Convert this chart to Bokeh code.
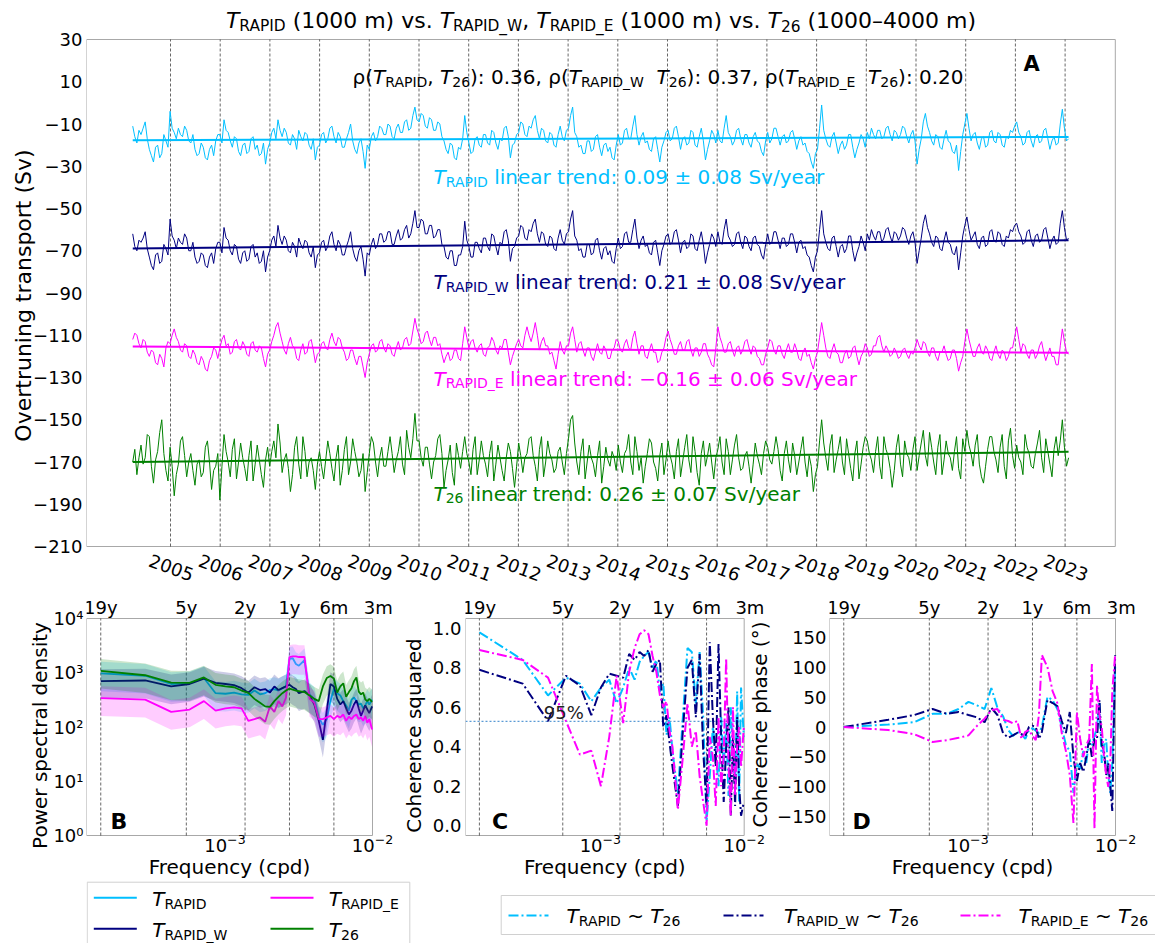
import math, glob, os
import numpy as np
from bokeh.plotting import figure
from bokeh.models import Range1d, Label, FixedTicker, CustomJSTickFormatter
from bokeh.layouts import column, row
from bokeh.embed import file_html
from bokeh.resources import INLINE

# ------------------------------------------------------------------ data
T_START, T_END = 2004.24, 2023.07          # first / last sample (decimal year), twice-monthly values
YEARS = list(range(2005, 2024))
Y_TICKS_A = list(range(30, -211, -20))
A_YMIN, A_YMAX = -210, 30
A_XMIN, A_XMAX = 2003.31, 2024.01

RAPID = [
    -11, -16, -19, -13, -15, -12, -9, -17, -22, -25, -28, -21, -20, -26, -24, -15, -18, -21,
    -4, -12, -14, -17, -12, -15, -16, -11, -13, -18, -19, -15, -22, -25, -24, -19, -21, -26, -27, -22, -20, -25, -18, -15,
    -15, -19, -8, -13, -14, -18, -21, -16, -17, -23, -25, -20, -19, -24, -23, -17, -16, -22, -20, -25, -24, -19, -29, -22,
    -19, -14, -12, -17, -8, -13, -16, -12, -14, -19, -20, -15, -17, -22, -13, -16, -18, -14, -15, -20, -22, -17, -27, -21,
    -20, -15, -14, -19, -17, -12, -11, -16, -19, -14, -16, -21, -21, -17, -14, -10, -18, -22, -24, -19, -17, -23, -31, -20,
    -22, -16, -14, -18, -16, -11, -12, -15, -15, -10, -11, -16, -17, -12, -10, -14, -14, -9, -8, -13, -12, -6, -2, -8,
    -9, -5, -6, -11, -12, -7, -8, -13, -13, -9, -10, -16, -18, -22, -24, -19, -20, -26, -27, -21, -22, -17, -6, -14,
    -19, -24, -23, -17, -16, -20, -21, -15, -15, -19, -20, -13, -14, -19, -22, -17, -18, -12, -11, -16, -26, -20, -19, -15,
    -14, -9, -10, -15, -16, -11, -12, -8, -6, -13, -17, -12, -13, -18, -19, -14, -15, -20, -21, -15, -11, -16, -18, -13,
    -12, -6, -2, -14, -16, -21, -20, -24, -24, -18, -18, -23, -22, -16, -15, -21, -25, -20, -19, -23, -21, -26, -27, -20,
    -15, -20, -19, -13, -12, -17, -17, -11, -6, -15, -20, -16, -14, -19, -18, -22, -23, -17, -16, -22, -28, -21, -18, -14,
    -13, -18, -17, -12, -11, -16, -22, -17, -16, -20, -19, -13, -14, -20, -21, -16, -12, -18, -27, -22, -18, -13, -15, -19,
    -13, -18, -19, -12, -6, -14, -16, -20, -18, -13, -12, -17, -20, -15, -15, -19, -21, -16, -14, -18, -19, -23, -25, -18,
    -14, -19, -17, -12, -12, -16, -20, -16, -15, -19, -18, -14, -13, -17, -22, -18, -16, -20, -19, -23, -24, -28, -31, -24,
    -22, -12, -1, -13, -17, -20, -21, -16, -14, -19, -24, -20, -18, -22, -20, -15, -15, -21, -26, -22, -19, -15, -17, -21,
    -14, -17, -12, -15, -17, -13, -13, -17, -16, -12, -11, -15, -18, -13, -14, -17, -15, -11, -12, -16, -19, -15, -13, -18,
    -29, -22, -17, -9, -5, -11, -14, -18, -20, -15, -16, -21, -22, -17, -13, -18, -19, -23, -24, -20, -32, -23, -15, -10,
    -5, -12, -18, -15, -14, -19, -22, -17, -16, -21, -20, -14, -13, -18, -19, -14, -15, -20, -21, -16, -17, -13, -14, -11,
    -9, -14, -16, -20, -19, -14, -13, -18, -21, -16, -15, -19, -18, -13, -12, -17, -22, -18, -16, -20, -19, -10, -3, -12,
    -18, -17]
RAPID_W = [
    -62, -68, -70, -65, -66, -64, -61, -69, -73, -77, -79, -72, -71, -76, -75, -67, -69, -72,
    -55, -63, -65, -69, -64, -66, -67, -62, -64, -70, -70, -66, -73, -76, -75, -71, -72, -77, -78, -73, -71, -76, -69, -66,
    -66, -71, -59, -64, -65, -70, -72, -67, -68, -74, -76, -71, -70, -75, -74, -68, -67, -73, -71, -76, -75, -70, -80, -73,
    -70, -65, -63, -68, -58, -64, -67, -63, -65, -70, -71, -66, -68, -73, -64, -67, -69, -65, -66, -71, -73, -68, -78, -72,
    -71, -66, -65, -70, -68, -63, -61, -67, -70, -65, -67, -72, -72, -68, -65, -61, -69, -73, -75, -70, -68, -74, -82, -71,
    -72, -67, -64, -69, -67, -62, -62, -66, -65, -61, -61, -67, -67, -63, -60, -65, -64, -60, -58, -64, -62, -57, -51, -59,
    -59, -55, -56, -62, -62, -58, -58, -64, -63, -60, -60, -67, -68, -73, -74, -70, -70, -77, -77, -72, -72, -68, -56, -65,
    -68, -73, -73, -66, -66, -69, -71, -64, -64, -68, -70, -62, -63, -68, -72, -66, -67, -61, -60, -65, -75, -69, -68, -64,
    -63, -58, -59, -64, -65, -60, -61, -57, -55, -62, -66, -61, -62, -67, -68, -63, -64, -69, -70, -64, -60, -65, -67, -62,
    -61, -55, -51, -63, -65, -70, -69, -73, -73, -67, -67, -72, -71, -65, -64, -70, -74, -69, -68, -72, -70, -75, -76, -69,
    -64, -69, -68, -62, -61, -66, -66, -60, -55, -64, -69, -65, -63, -68, -67, -71, -72, -66, -65, -71, -77, -70, -67, -63,
    -62, -67, -66, -61, -60, -65, -71, -66, -65, -69, -68, -62, -63, -69, -70, -65, -61, -67, -76, -71, -67, -62, -64, -68,
    -61, -66, -67, -60, -55, -63, -65, -68, -67, -62, -61, -66, -69, -63, -64, -68, -70, -64, -63, -67, -68, -72, -74, -67,
    -62, -67, -66, -61, -61, -65, -69, -64, -64, -68, -67, -62, -62, -66, -71, -66, -65, -69, -68, -72, -73, -77, -80, -73,
    -70, -60, -51, -62, -66, -69, -70, -64, -63, -68, -73, -68, -67, -71, -69, -63, -63, -70, -75, -71, -68, -63, -66, -70,
    -62, -65, -60, -63, -65, -61, -61, -66, -64, -60, -59, -63, -66, -61, -62, -65, -63, -59, -60, -64, -67, -63, -61, -66,
    -76, -70, -64, -57, -53, -59, -62, -66, -68, -63, -64, -69, -70, -65, -61, -66, -67, -71, -72, -68, -79, -71, -63, -58,
    -54, -60, -65, -63, -61, -67, -69, -64, -63, -68, -67, -61, -60, -65, -66, -61, -62, -67, -68, -63, -64, -60, -61, -58,
    -57, -61, -63, -67, -66, -61, -60, -65, -68, -63, -62, -66, -65, -60, -59, -64, -69, -65, -63, -67, -66, -57, -51, -59,
    -65, -64]
RAPID_E = [
    -112, -109, -110, -114, -116, -112, -113, -118, -120, -117, -118, -123, -124, -119, -121, -125, -116, -113,
    -114, -110, -107, -111, -113, -117, -118, -114, -115, -120, -121, -117, -119, -123, -124, -120, -122, -126, -127, -122, -120, -116, -117, -121,
    -116, -112, -110, -115, -114, -119, -118, -113, -112, -116, -117, -113, -115, -119, -120, -114, -113, -117, -118, -115, -116, -121, -125, -119,
    -117, -113, -110, -106, -104, -109, -113, -117, -119, -114, -111, -115, -116, -121, -122, -117, -114, -119, -118, -113, -112, -117, -123, -119,
    -118, -114, -113, -116, -117, -112, -109, -113, -115, -111, -112, -116, -118, -122, -121, -117, -117, -121, -124, -120, -120, -125, -130, -123,
    -119, -115, -114, -118, -117, -113, -112, -116, -118, -114, -115, -119, -120, -116, -113, -117, -116, -112, -111, -115, -114, -108, -102, -107,
    -110, -114, -113, -109, -108, -112, -115, -111, -111, -115, -114, -119, -123, -120, -118, -122, -121, -117, -117, -121, -122, -114, -106, -111,
    -116, -113, -112, -116, -118, -115, -114, -119, -120, -116, -115, -111, -113, -117, -119, -115, -116, -112, -112, -118, -124, -120, -117, -114,
    -112, -115, -116, -110, -106, -110, -113, -109, -104, -110, -117, -113, -111, -115, -115, -119, -118, -122, -126, -119, -113, -117, -119, -115,
    -115, -109, -106, -112, -118, -114, -113, -117, -120, -116, -116, -120, -122, -118, -114, -118, -119, -115, -117, -121, -121, -117, -116, -112,
    -113, -117, -118, -114, -112, -116, -117, -111, -108, -114, -119, -115, -115, -120, -121, -117, -114, -118, -118, -123, -122, -118, -116, -111,
    -108, -112, -115, -119, -119, -115, -113, -117, -117, -113, -112, -117, -120, -116, -116, -120, -118, -114, -114, -119, -121, -124, -125, -116,
    -106, -111, -114, -118, -118, -114, -113, -117, -120, -116, -115, -119, -117, -113, -112, -116, -119, -115, -116, -120, -121, -124, -124, -119,
    -116, -112, -113, -117, -119, -115, -115, -119, -121, -117, -114, -118, -118, -114, -117, -121, -122, -118, -116, -120, -119, -123, -126, -121,
    -118, -111, -104, -110, -116, -120, -121, -117, -114, -118, -119, -123, -123, -119, -117, -121, -120, -116, -115, -120, -124, -120, -118, -114,
    -116, -120, -119, -115, -115, -111, -110, -115, -118, -115, -117, -120, -119, -116, -118, -121, -120, -117, -116, -119, -121, -118, -119, -116,
    -112, -115, -117, -113, -114, -118, -120, -116, -116, -120, -122, -118, -118, -115, -119, -122, -121, -117, -117, -121, -127, -123, -120, -113,
    -107, -112, -116, -120, -120, -116, -114, -118, -119, -115, -117, -121, -122, -118, -115, -119, -121, -117, -118, -122, -120, -116, -116, -111,
    -106, -112, -118, -114, -115, -119, -121, -117, -117, -121, -119, -115, -113, -118, -122, -119, -116, -120, -120, -124, -124, -115, -107, -113,
    -118, -119]
T26 = [
    -170, -164, -176, -168, -162, -171, -168, -157, -158, -172, -180, -169, -165, -156, -150, -166, -174, -179,
    -163, -172, -186, -176, -171, -160, -158, -167, -177, -170, -166, -174, -181, -171, -169, -177, -175, -163, -160, -170, -183, -174, -172, -166,
    -188, -172, -157, -165, -170, -177, -164, -159, -178, -170, -161, -168, -173, -179, -167, -160, -179, -171, -162, -169, -176, -182, -169, -163,
    -172, -165, -160, -168, -152, -161, -175, -169, -166, -173, -184, -176, -163, -158, -171, -178, -158, -165, -177, -170, -168, -174, -183, -171,
    -165, -172, -178, -169, -160, -166, -173, -179, -168, -162, -181, -174, -164, -158, -176, -170, -159, -165, -170, -177, -174, -166, -184, -175,
    -166, -158, -161, -170, -177, -168, -163, -172, -172, -165, -158, -166, -175, -169, -165, -158, -171, -176, -155, -163, -168, -159, -147, -160,
    -160, -168, -172, -163, -163, -171, -178, -170, -167, -159, -157, -166, -182, -174, -169, -162, -175, -181, -161, -167, -173, -165, -158, -166,
    -170, -176, -164, -158, -176, -169, -160, -167, -171, -177, -166, -160, -179, -171, -162, -168, -174, -179, -168, -161, -165, -173, -182, -172,
    -161, -167, -175, -168, -166, -159, -158, -167, -172, -179, -164, -158, -177, -170, -160, -166, -169, -175, -173, -165, -163, -170, -176, -166,
    -159, -150, -148, -161, -170, -176, -165, -159, -178, -170, -162, -168, -171, -177, -167, -160, -180, -172, -163, -169, -172, -165, -168, -174,
    -162, -170, -175, -166, -164, -157, -170, -176, -158, -165, -174, -168, -180, -172, -166, -159, -161, -170, -173, -179, -167, -161, -176, -169,
    -160, -167, -171, -178, -165, -159, -177, -170, -163, -157, -169, -175, -158, -165, -175, -181, -166, -160, -172, -167, -161, -170, -178, -168,
    -164, -158, -170, -176, -159, -165, -176, -169, -162, -157, -168, -174, -173, -167, -165, -172, -180, -171, -161, -167, -171, -176, -166, -160,
    -163, -169, -171, -165, -158, -164, -174, -179, -166, -160, -169, -175, -161, -167, -176, -170, -164, -158, -170, -177, -167, -172, -184, -176,
    -172, -160, -150, -161, -168, -174, -162, -157, -175, -169, -164, -158, -170, -176, -159, -166, -173, -179, -166, -160, -178, -171, -163, -158,
    -160, -166, -169, -175, -165, -158, -172, -178, -158, -164, -167, -173, -182, -174, -163, -157, -171, -177, -160, -166, -168, -174, -164, -158,
    -174, -167, -161, -155, -167, -172, -156, -163, -170, -176, -163, -157, -176, -169, -160, -166, -168, -174, -165, -158, -173, -178, -159, -165,
    -155, -162, -166, -172, -162, -157, -171, -177, -180, -172, -164, -158, -158, -165, -169, -175, -163, -157, -172, -178, -160, -154, -167, -173,
    -162, -168, -170, -176, -157, -163, -166, -172, -173, -166, -161, -155, -168, -175, -159, -165, -171, -177, -164, -158, -167, -160, -150, -163,
    -172, -168]
TREND_RAPID = [-17.7, -16.1]
TREND_W = [-68.9, -65.0]
TREND_E = [-115.3, -118.3]
TREND_26 = [-170.0, -165.2]

# spectra (frequency in cycles per day)
FREQ = [0.0001441, 0.0002882, 0.0004323, 0.0005764, 0.0007205, 0.0008646, 0.0010087,
        0.0011528, 0.0012969, 0.0014410, 0.0015851, 0.0017292, 0.0018733, 0.0020174,
        0.0021615, 0.0023056, 0.0024497, 0.0025938, 0.0027379, 0.0028820, 0.0030261,
        0.0031702, 0.0034584, 0.0037466, 0.0040348, 0.0043230, 0.0046112, 0.0048994,
        0.0051876, 0.0054758, 0.0057640, 0.0060522, 0.0063404, 0.0066286, 0.0069168,
        0.0072050, 0.0074932, 0.0077814, 0.0080696, 0.0083578, 0.0086460, 0.0089342,
        0.0092224, 0.0095106, 0.0099429]
PSD_RAPID = [970, 880, 620, 640, 800, 420, 410, 430, 400, 390, 470, 400, 420, 480, 500,
             470, 520, 560, 1800, 1850, 1450, 1350, 1700, 400, 330, 150, 110, 140, 300, 500,
             420, 380, 300, 250, 200, 320, 350, 300, 260, 270, 220, 250, 300, 260, 320]
PSD_W = [700, 720, 560, 620, 780, 650, 620, 590, 520, 430, 540, 480, 500, 430, 560,
         480, 520, 560, 600, 540, 500, 420, 460, 380, 260, 130, 58, 200, 620, 560,
         330, 260, 300, 220, 170, 200, 260, 310, 220, 160, 200, 250, 210, 180, 240]
PSD_E = [340, 320, 190, 210, 300, 200, 220, 230, 220, 130, 140, 150, 125, 240, 190,
         300, 240, 350, 1950, 2000, 2000, 1950, 1950, 330, 280, 140, 140, 150, 160, 140,
         160, 150, 170, 130, 155, 140, 160, 170, 140, 150, 130, 160, 120, 140, 90]
PSD_26 = [1085, 900, 660, 650, 820, 600, 560, 540, 470, 425, 330, 280, 240, 235, 300,
          360, 420, 470, 510, 490, 470, 460, 440, 380, 330, 300, 560, 800, 870, 780,
          430, 560, 640, 360, 440, 520, 700, 820, 450, 400, 430, 320, 300, 330, 290]
CI_LOW, CI_HIGH = 0.47, 1.65      # confidence band ratios

COH_RAPID = [0.98, 0.84, 0.66, 0.75, 0.72, 0.63, 0.70, 0.74, 0.62, 0.70, 0.80, 0.74, 0.83,
             0.86, 0.88, 0.80, 0.84, 0.68, 0.72, 0.46, 0.55, 0.38, 0.16, 0.55, 0.90, 0.88,
             0.62, 0.88, 0.55, 0.02, 0.25, 0.50, 0.38, 0.20, 0.55, 0.30, 0.52, 0.15, 0.60,
             0.35, 0.20, 0.68, 0.12, 0.70, 0.45]
COH_W = [0.79, 0.72, 0.53, 0.76, 0.71, 0.56, 0.70, 0.77, 0.76, 0.75, 0.87, 0.84, 0.88,
         0.86, 0.89, 0.78, 0.82, 0.84, 0.50, 0.56, 0.42, 0.30, 0.10, 0.48, 0.80, 0.84,
         0.55, 0.87, 0.38, 0.10, 0.93, 0.55, 0.30, 0.92, 0.45, 0.12, 0.40, 0.60, 0.05,
         0.45, 0.10, 0.55, 0.20, 0.05, 0.12]
COH_E = [0.89, 0.84, 0.75, 0.53, 0.36, 0.38, 0.20, 0.45, 0.76, 0.52, 0.78, 0.90, 0.97,
         0.99, 0.97, 0.86, 0.78, 0.66, 0.60, 0.63, 0.48, 0.40, 0.08, 0.35, 0.62, 0.40,
         0.48, 0.25, 0.12, 0.00, 0.45, 0.35, 0.10, 0.55, 0.20, 0.35, 0.85, 0.30, 0.05,
         0.60, 0.15, 0.40, 0.50, 0.30, 0.50]
COH_95 = 0.529
PH_RAPID = [0, 4, 8, 22, 22, 30, 42, 36, 30, 65, 32, 18, -5, -15, -8, -12, -20, -5, -2,
            -6, -10, 0, 50, 45, 30, 0, -30, -40, -110, -60, -70, -40, -60, -20, -30, -15,
            0, 40, -60, -30, -20, -80, -110, -60, 100]
PH_W = [0, 12, 20, 30, 22, 25, 20, 16, 8, 32, 20, -10, -18, -14, -10, -12, -15, 0, 2, 0,
        -20, -8, 45, 40, 35, 10, -10, 25, -50, -90, -60, -75, -50, -20, -50, -20, -20, 45,
        -30, -40, -80, -60, -100, -140, 120]
PH_E = [0, -5, -12, -25, -22, -18, -14, 2, 14, 28, 30, 12, 10, 6, 10, -20, -8, -5, -15,
        -22, 20, 120, 100, 60, 40, -10, -40, -80, -160, 25, -20, -50, -30, -20, 105, -170,
        70, 20, 0, -50, -80, -100, -60, 60, 120]

PERIOD_LABELS = ["19y", "5y", "2y", "1y", "6m", "3m"]
PERIOD_DAYS = [19 * 365.25, 5 * 365.25, 2 * 365.25, 365.25, 182.625, 91.3]
F_MIN, F_MAX = 10 ** -3.938, 1e-2
X_TICKS_LOG = [-3, -2]
PSD_YMIN, PSD_YMAX = 1.0, 1e4
COH_YMIN, COH_YMAX = -0.05, 1.05
PH_YMIN, PH_YMAX = -181, 181

C_RAPID, C_W, C_E, C_26 = "#00bfff", "#000080", "#ff00ff", "#008000"
FONT = "DejaVu Sans"
BOX = "#a8a8a8"
ALPHA_CORR = 0.35   # lift of alphabetic-baseline labels (em)
MID_CORR = 0.14     # lift of middle-baseline labels (em)

# ------------------------------------------------------------------ text helpers
def _find_font(name):
    for base in ["/usr/share/fonts", "/usr/local/share/fonts", os.path.expanduser("~/.fonts")]:
        hits = glob.glob(os.path.join(base, "**", name), recursive=True)
        if hits:
            return hits[0]
    return None

_FONTS = {}
try:
    from PIL import ImageFont
    for st, fn in [("normal", "DejaVuSans.ttf"), ("italic", "DejaVuSans-Oblique.ttf"),
                   ("bold", "DejaVuSans-Bold.ttf")]:
        pth = _find_font(fn)
        if pth:
            _FONTS[st] = ImageFont.truetype(pth, 100)
except Exception:
    pass


def measure(text, size, style="normal"):
    f = _FONTS.get(style) or _FONTS.get("normal")
    if f is not None:
        try:
            return f.getlength(text) * size / 100.0
        except Exception:
            pass
    return 0.6 * size * len(text)


class Frame:
    """maps page pixels to data units of a figure whose frame covers [L,R]x[T,B]"""
    def __init__(self, L, R, T, B, xa, pxa, xb, pxb, ya, pya, yb, pyb, xlog=False, ylog=False):
        self.xlog, self.ylog = xlog, ylog
        f = (lambda v: math.log10(v)) if xlog else (lambda v: v)
        g = (lambda v: math.log10(v)) if ylog else (lambda v: v)
        self.xs = (f(xb) - f(xa)) / (pxb - pxa)
        self.x0 = f(xa) - pxa * self.xs
        self.ys = (g(yb) - g(ya)) / (pyb - pya)
        self.y0 = g(ya) - pya * self.ys
        self.xr = Range1d(self.x(L), self.x(R))
        self.yr = Range1d(self.y(B), self.y(T))

    def x(self, px):
        v = self.x0 + px * self.xs
        return 10 ** v if self.xlog else v

    def y(self, py):
        v = self.y0 + py * self.ys
        return 10 ** v if self.ylog else v

    def px(self, x):
        v = math.log10(x) if self.xlog else x
        return (v - self.x0) / self.xs


def rich(p, F, px, py, segs, size, color="black", align="left"):
    items = []
    for text, kind in segs:
        sz = size * 0.7 if kind in ("s", "p") else size
        st = {"i": "italic", "b": "bold"}.get(kind, "normal")
        vs = -0.14 * size if kind == "s" else (0.45 * size if kind == "p" else 0.0)
        items.append((text, sz, st, vs, measure(text, sz, st)))
    total = sum(it[4] for it in items)
    cur = {"left": 0.0, "center": -total / 2.0, "right": -total}[align]
    for text, sz, st, vs, w in items:
        lead = len(text) - len(text.lstrip(" "))
        shown = text.strip(" ")
        if shown:
            off = measure(" " * lead, sz, st) if lead else 0.0
            p.add_layout(Label(x=F.x(px), y=F.y(py), x_offset=cur + off,
                               y_offset=vs + ALPHA_CORR * sz,
                               text=shown, text_font=FONT, text_font_size=f"{sz:.2f}px",
                               text_font_style=st, text_color=color,
                               text_align="left", text_baseline="alphabetic"))
        cur += w


def plain(p, F, px, py, text, size, angle_deg=0.0, color="black"):
    a = angle_deg * math.pi / 180
    c = MID_CORR * size
    p.add_layout(Label(x=F.x(px), y=F.y(py), x_offset=-math.sin(a) * c, y_offset=math.cos(a) * c,
                       text=text, angle=a, text_align="center", text_baseline="middle",
                       text_font=FONT, text_font_size=f"{size}px", text_color=color))


def mkfig(width, height, F, bl, xlog=False, ylog=False, yaxis=True):
    p = figure(width=width, height=height, x_range=F.xr, y_range=F.yr,
               x_axis_type="log" if xlog else "linear",
               y_axis_type="log" if ylog else "linear",
               x_axis_location=None, y_axis_location="left" if yaxis else None,
               output_backend="svg", toolbar_location=None,
               min_border_left=bl, min_border_right=0, min_border_top=0, min_border_bottom=0)
    p.outline_line_color = None
    p.background_fill_color = "white"
    p.border_fill_color = "white"
    p.xgrid.visible = False
    p.ygrid.visible = False
    return p


def style_yaxis(p, ticks, fmt, standoff, label="", label_size=20, label_standoff=0):
    for ax in p.yaxis:
        ax.ticker = FixedTicker(ticks=ticks)
        ax.formatter = CustomJSTickFormatter(code=fmt)
        ax.major_label_text_font = FONT
        ax.major_label_text_font_size = "18px"
        ax.major_label_text_color = "black"
        ax.major_label_standoff = standoff
        ax.axis_line_color = None
        ax.major_tick_line_color = None
        ax.minor_tick_line_color = None
        ax.major_tick_in = 0
        ax.major_tick_out = 0
        ax.minor_tick_in = 0
        ax.minor_tick_out = 0
        ax.axis_label = label
        ax.axis_label_text_font = FONT
        ax.axis_label_text_font_size = f"{label_size}px"
        ax.axis_label_text_font_style = "normal"
        ax.axis_label_text_color = "black"
        ax.axis_label_standoff = label_standoff


MINUS_FMT = "return tick < 0 ? '\\u2212' + Math.abs(tick) : '' + tick;"
SUP_FMT = ("const s = {'0':'\\u2070','1':'\\u00b9','2':'\\u00b2','3':'\\u00b3','4':'\\u2074',"
           "'-':'\\u207b'}; const e = Math.round(Math.log10(tick));"
           "return '10' + String(e).split('').map(c => s[c]).join('');")

# ------------------------------------------------------------------ panel A (page px 0..1155 x 0..590)
FA = Frame(86, 1155, 0, 590, 2005, 170.0, 2023, 170.0 + 18 * 49.7, 30, 39.0, -210, 546.0)
pA = mkfig(1155, 590, FA, 86)
style_yaxis(pA, Y_TICKS_A, MINUS_FMT, 4, "Overtruning transport (Sv)", 22, -6)
pA.quad(left=[A_XMIN], right=[A_XMAX], bottom=[A_YMIN], top=[A_YMAX], fill_color=None,
        line_color=BOX, line_width=1)
pA.segment(x0=YEARS, y0=[A_YMIN] * len(YEARS), x1=YEARS, y1=[A_YMAX] * len(YEARS),
           line_color="black", line_alpha=0.75, line_width=0.8, line_dash="3 2")
for yr in YEARS:
    plain(pA, FA, FA.px(yr), 569.5, str(yr), 18, angle_deg=-20)

for vals, trend, col in [(RAPID, TREND_RAPID, C_RAPID), (RAPID_W, TREND_W, C_W),
                         (RAPID_E, TREND_E, C_E), (T26, TREND_26, C_26)]:
    t = np.linspace(T_START, T_END, len(vals))
    pA.line(t, vals, line_color=col, line_width=1)
    pA.line([T_START, T_END], trend, line_color=col, line_width=2)

rich(pA, FA, 600.5, 27.5, [("T", "i"), ("RAPID", "s"), (" (1000 m) vs. ", "n"), ("T", "i"),
                           ("RAPID_W", "s"), (", ", "n"), ("T", "i"), ("RAPID_E", "s"),
                           (" (1000 m) vs. ", "n"), ("T", "i"), ("26", "s"),
                           (" (1000\u20134000 m)", "n")], 22, align="center")
rich(pA, FA, 352, 83.5, [("\u03c1(", "n"), ("T", "i"), ("RAPID", "s"), (", ", "n"), ("T", "i"),
                         ("26", "s"), ("): 0.36, \u03c1(", "n"), ("T", "i"), ("RAPID_W", "s"),
                         ("  ", "n"), ("T", "i"), ("26", "s"), ("): 0.37, \u03c1(", "n"),
                         ("T", "i"), ("RAPID_E", "s"), ("  ", "n"), ("T", "i"), ("26", "s"),
                         ("): 0.20", "n")], 20)
rich(pA, FA, 1023, 70.7, [("A", "b")], 21)
rich(pA, FA, 433, 183.3, [("T", "i"), ("RAPID", "s"),
                          (" linear trend: 0.09 \u00b1 0.08 Sv/year", "n")], 20, C_RAPID)
rich(pA, FA, 433, 288.3, [("T", "i"), ("RAPID_W", "s"),
                          (" linear trend: 0.21 \u00b1 0.08 Sv/year", "n")], 20, C_W)
rich(pA, FA, 433, 385.0, [("T", "i"), ("RAPID_E", "s"),
                          (" linear trend: \u22120.16 \u00b1 0.06 Sv/year", "n")], 20, C_E)
rich(pA, FA, 433, 500.0, [("T", "i"), ("26", "s"),
                          (" linear trend: 0.26 \u00b1 0.07 Sv/year", "n")], 20, C_26)

# ------------------------------------------------------------------ panels B, C, D (page y 590..880)
FB = Frame(86, 398, 590, 880, F_MIN, 86, F_MAX, 372, PSD_YMAX, 618, PSD_YMIN, 835,
           xlog=True, ylog=True)
FC = Frame(458, 774, 590, 880, F_MIN, 458, F_MAX, 743, COH_YMAX, 618, COH_YMIN, 835, xlog=True)
FD = Frame(829, 1155, 590, 880, F_MIN, 829, F_MAX, 1115, PH_YMAX, 618, PH_YMIN, 835, xlog=True)
pB = mkfig(398, 290, FB, 86, xlog=True, ylog=True)
style_yaxis(pB, [1, 10, 100, 1000, 10000], SUP_FMT, 3, "Power spectral density", 20, -2)
pC = mkfig(376, 290, FC, 60, xlog=True)
style_yaxis(pC, [0, 0.2, 0.4, 0.6, 0.8, 1.0], "return tick.toFixed(1);", 4,
            "Coherence squared", 20, 4)
pD = mkfig(381, 290, FD, 55, xlog=True)
style_yaxis(pD, [-150, -100, -50, 0, 50, 100, 150], MINUS_FMT, 3)

for p, F, y0, y1 in [(pB, FB, PSD_YMIN, PSD_YMAX), (pC, FC, COH_YMIN, COH_YMAX),
                     (pD, FD, PH_YMIN, PH_YMAX)]:
    p.quad(left=[F_MIN], right=[F_MAX], bottom=[y0], top=[y1], fill_color=None,
           line_color=BOX, line_width=1)
    pf = [1.0 / d for d in PERIOD_DAYS[:5]]
    p.segment(x0=pf, y0=[y0] * 5, x1=pf, y1=[y1] * 5, line_color="black", line_alpha=0.75,
              line_width=0.8, line_dash="3 2")
    for lab, d in zip(PERIOD_LABELS, PERIOD_DAYS):
        rich(p, F, F.px(1.0 / d), 613, [(lab, "n")], 18, align="center")
    for e in X_TICKS_LOG:
        rich(p, F, F.px(10.0 ** e), 851.7, [("10", "n"), ("\u2212" + str(-e), "p")], 18,
             align="center")
    rich(p, F, (F.px(F_MIN) + F.px(F_MAX)) / 2, 873, [("Frequency (cpd)", "n")], 20,
         align="center")

for psd, col in [(PSD_RAPID, C_RAPID), (PSD_W, C_W), (PSD_E, C_E), (PSD_26, C_26)]:
    lo = [v * CI_LOW for v in psd]
    hi = [v * CI_HIGH for v in psd]
    pB.varea(x=FREQ, y1=lo, y2=hi, fill_color=col, fill_alpha=0.2)
    pB.line(FREQ, psd, line_color=col, line_width=1.8)

pC.segment(x0=[F_MIN], y0=[COH_95], x1=[F_MAX], y1=[COH_95], line_color="#5b9bd5",
           line_dash="2 2", line_width=1.3)
for coh, col in [(COH_RAPID, C_RAPID), (COH_W, C_W), (COH_E, C_E)]:
    pC.line(FREQ, coh, line_color=col, line_width=2, line_dash="10 3 2 3")
for ph, col in [(PH_RAPID, C_RAPID), (PH_W, C_W), (PH_E, C_E)]:
    pD.line(FREQ, ph, line_color=col, line_width=2, line_dash="10 3 2 3")

rich(pC, FC, 538, 718.2, [("95%", "n")], 18, "#222222")
rich(pB, FB, 110, 828.3, [("B", "b")], 22)
rich(pC, FC, 485, 828.3, [("C", "b")], 22)
rich(pD, FD, 852, 828.3, [("D", "b")], 22)
plain(pC, FC, 762, 724, "Coherence phase (\u00b0)", 20, angle_deg=90)

# ------------------------------------------------------------------ legends strip (page y 880..943)
FL = Frame(86, 1155, 880, 943, 0, 0, 1, 1, 0, 0, 1, 1)
pL = mkfig(1155, 63, FL, 86, yaxis=False)
pL.quad(left=[86.7], right=[409.3], top=[881.7], bottom=[990], fill_color="white",
        line_color="#d0d0d0", line_width=1)
pL.quad(left=[500.7], right=[1190], top=[895], bottom=[934], fill_color="white",
        line_color="#d0d0d0", line_width=1)
LEG1 = [(C_RAPID, 93.3, 897.3, 151.7, [("T", "i"), ("RAPID", "s")]),
        (C_W, 93.3, 928.3, 151.7, [("T", "i"), ("RAPID_W", "s")]),
        (C_E, 270, 897.3, 328.3, [("T", "i"), ("RAPID_E", "s")]),
        (C_26, 270, 928.3, 328.3, [("T", "i"), ("26", "s")])]
for col, lx, ly, tx, segs in LEG1:
    pL.line([lx, lx + 43], [ly, ly], line_color=col, line_width=2)
    rich(pL, FL, tx, ly + 8.4, segs, 20)
LEG2 = [(C_RAPID, 508, 566, [("T", "i"), ("RAPID", "s"), (" ~ ", "n"), ("T", "i"), ("26", "s")]),
        (C_W, 723, 783.5, [("T", "i"), ("RAPID_W", "s"), (" ~ ", "n"), ("T", "i"), ("26", "s")]),
        (C_E, 960, 1018, [("T", "i"), ("RAPID_E", "s"), (" ~ ", "n"), ("T", "i"), ("26", "s")])]
for col, lx, tx, segs in LEG2:
    pL.line([lx, lx + 40], [915, 915], line_color=col, line_width=2, line_dash="10 3 2 3")
    rich(pL, FL, tx, 922.4, segs, 20)

layout = column(pA, row(pB, pC, pD, spacing=0), pL, spacing=0)
open("out.html", "w", encoding="utf-8").write(file_html(layout, INLINE, title="Overturning"))
